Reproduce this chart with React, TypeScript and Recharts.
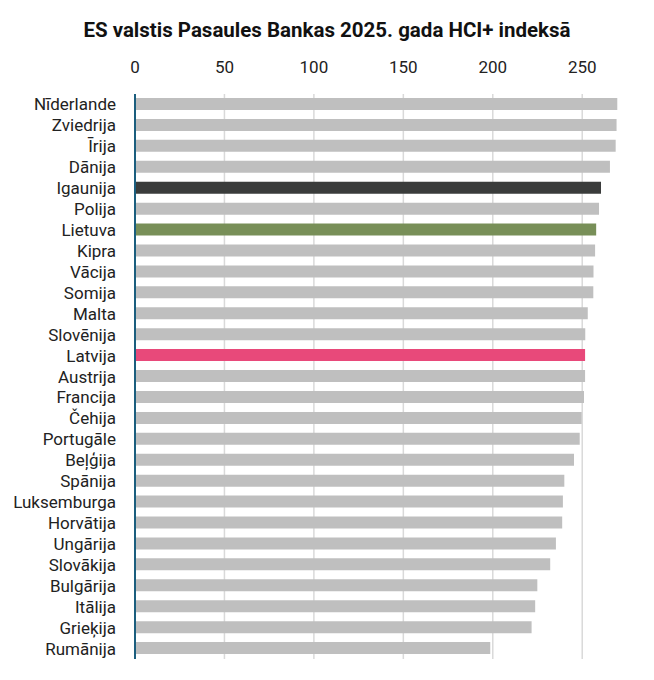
import React from 'react'
import { BarChart, Bar, XAxis, YAxis, CartesianGrid, Cell } from 'recharts'

const countries = [
    'Nīderlande', 'Zviedrija', 'Īrija', 'Dānija', 'Igaunija', 'Polija', 'Lietuva',
    'Kipra', 'Vācija', 'Somija', 'Malta', 'Slovēnija', 'Latvija', 'Austrija',
    'Francija', 'Čehija', 'Portugāle', 'Beļģija', 'Spānija', 'Luksemburga',
    'Horvātija', 'Ungārija', 'Slovākija', 'Bulgārija', 'Itālija', 'Grieķija', 'Rumānija'
]

const hciPlus = [
    269.6, 269.2, 268.7, 265.5, 260.5, 259.4, 257.8,
    257.2, 256.3, 256.2, 253.1, 251.7, 251.6, 251.6,
    251.0, 249.7, 248.6, 245.4, 240.0, 239.2,
    238.8, 235.3, 232.1, 224.9, 223.7, 221.7, 198.6
]

const xTicks = [0, 50, 100, 150, 200, 250]

// highlighted countries, everything else gets the default gray
const HIGHLIGHT: Record<string, string> = {
    'Igaunija': '#3a3c3b',
    'Lietuva': '#788f58',
    'Latvija': '#e8497a',
}
const DEFAULT_FILL = '#bfbfbf'

const FONT = 'Roboto, "Noto Sans", sans-serif'

export default function App() {
    const data = countries.map((name, i) => ({ name, value: hciPlus[i] }))

    return (
        <div style={{ position: 'absolute', left: 0, top: 0, width: 654, height: 680, background: '#fff', fontFamily: FONT }}>
            <div
                style={{
                    position: 'absolute', left: 0, top: 16, width: 654, textAlign: 'center',
                    fontSize: 20.5, fontWeight: 700, color: '#111', lineHeight: '28px'
                }}
            >
                ES valstis Pasaules Bankas 2025. gada HCI+ indeksā
            </div>
            <BarChart
                width={654}
                height={680}
                data={data}
                layout="vertical"
                margin={{ top: 64, right: 36, bottom: 21, left: 0 }}
                barSize={12}
            >
                <CartesianGrid
                    horizontal={false}
                    vertical
                    verticalValues={xTicks}
                    stroke="#d9d9d9"
                    strokeWidth={1.5}
                />
                <XAxis
                    type="number"
                    orientation="top"
                    domain={[0, 270]}
                    ticks={xTicks}
                    height={30}
                    axisLine={false}
                    tickLine={false}
                    tickMargin={15}
                    tick={{ fontSize: 17, fill: '#222', fontFamily: FONT }}
                />
                <YAxis
                    type="category"
                    dataKey="name"
                    width={135}
                    interval={0}
                    axisLine={{ stroke: '#1b5e7e', strokeWidth: 2 }}
                    tickLine={false}
                    tickMargin={13}
                    tick={{ fontSize: 17, fill: '#222', fontFamily: FONT }}
                />
                <Bar dataKey="value" isAnimationActive={false}>
                    {data.map((d) => (
                        <Cell key={d.name} fill={HIGHLIGHT[d.name] || DEFAULT_FILL} />
                    ))}
                </Bar>
            </BarChart>
        </div>
    )
}
